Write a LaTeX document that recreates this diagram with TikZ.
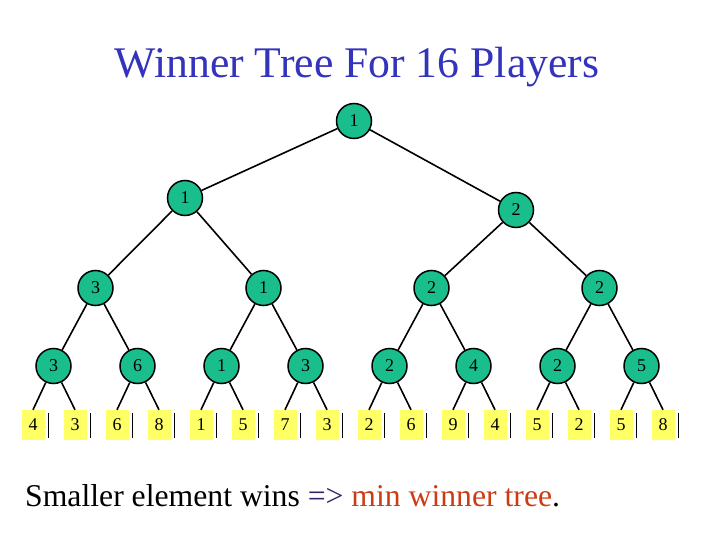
\documentclass[tikz,border=0pt]{standalone}
\usepackage{fontspec}
\setmainfont{Liberation Serif}
\definecolor{teal1}{RGB}{25,190,140}
\definecolor{leafyellow}{RGB}{255,255,102}
\definecolor{titleblue}{RGB}{51,51,187}
\definecolor{minred}{RGB}{204,60,20}
\definecolor{arrowblue}{RGB}{40,40,110}
\tikzset{
  tnode/.style={circle, draw=black, line width=1.5pt, fill=teal1, minimum size=35pt, inner sep=0pt, font=\fontsize{18}{20}\selectfont},
  leafbox/.style={rectangle, fill=leafyellow, minimum width=23pt, minimum height=30pt, inner sep=0pt, font=\fontsize{18}{20}\selectfont},
  edge/.style={line width=1.6pt, black},
  leafbar/.style={line width=1.3pt, black},
}
\begin{document}
\begin{tikzpicture}[x=1pt,y=1pt]
\useasboundingbox (0,0) rectangle (720,-540);
% title
\node[anchor=base, text=titleblue, font=\fontsize{43.7}{50}\selectfont, inner sep=0pt] (title) at (357,-78) {Winner Tree For 16 Players};
% root
\node[tnode] (r) at (354,-121) {1};
% level 1
\node[tnode] (a0) at (185,-198) {1};
\node[tnode] (a1) at (516,-210) {2};
% level 2
\node[tnode] (b0) at (95.5,-288) {3};
\node[tnode] (b1) at (263.5,-288) {1};
\node[tnode] (b2) at (431.5,-288) {2};
\node[tnode] (b3) at (599.5,-288) {2};
% level 3
\foreach \i/\v in {0/3,1/6,2/1,3/3,4/2,5/4,6/2,7/5}{
  \node[tnode] (c\i) at ({53.5+84*\i},-366) {\v};
}
% leaves
\foreach \i/\v in {0/4,1/3,2/6,3/8,4/1,5/5,6/7,7/3,8/2,9/6,10/9,11/4,12/5,13/2,14/5,15/8}{
  \node[leafbox] (l\i) at ({33+42*\i},-425) {\v};
  \draw[leafbar] ([xshift=4pt,yshift=-3pt]l\i.north east) -- ([xshift=4pt,yshift=2pt]l\i.south east);
}
% edges
\draw[edge] (r) -- (a0);
\draw[edge] (r) -- (a1);
\draw[edge] (a0) -- (b0);
\draw[edge] (a0) -- (b1);
\draw[edge] (a1) -- (b2);
\draw[edge] (a1) -- (b3);
\foreach \k in {0,1,2,3}{
  \pgfmathtruncatemacro{\ca}{2*\k}
  \pgfmathtruncatemacro{\cb}{2*\k+1}
  \draw[edge] (b\k) -- (c\ca);
  \draw[edge] (b\k) -- (c\cb);
}
\foreach \j in {0,...,7}{
  \pgfmathtruncatemacro{\la}{2*\j}
  \pgfmathtruncatemacro{\lb}{2*\j+1}
  \draw[edge] (c\j) -- (l\la.north);
  \draw[edge] (c\j) -- (l\lb.north);
}
% caption
\node[anchor=base west, inner sep=0pt, font=\fontsize{31.7}{36}\selectfont] (cap) at (25,-506) {Smaller element wins \textcolor{arrowblue}{=>} \textcolor{minred}{min winner tree}.};
\end{tikzpicture}
\end{document}
